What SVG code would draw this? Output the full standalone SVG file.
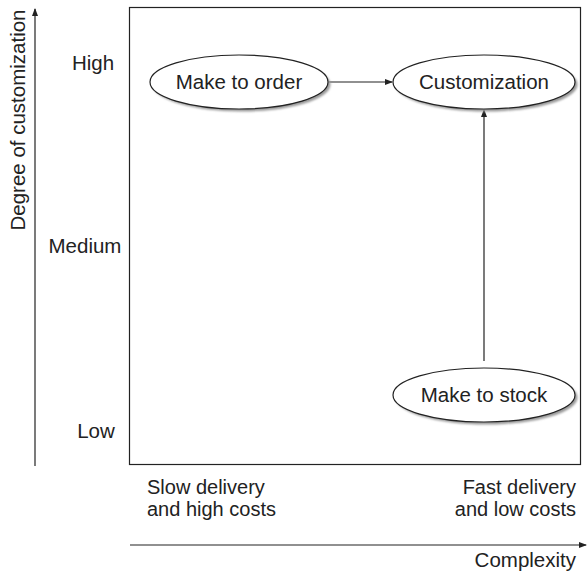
<svg xmlns="http://www.w3.org/2000/svg" width="588" height="576" viewBox="0 0 588 576">
<style>
text{font-family:"Liberation Sans",Arial,sans-serif;font-size:20.5px;fill:#222}
.sm{font-size:20px}
.sh{fill:#999;stroke:none}
.el{fill:#fff;stroke:#222;stroke-width:1.2}
.ln{stroke:#222;stroke-width:1.2;fill:none}
</style>
<defs>
<marker id="ah" markerWidth="8" markerHeight="8" refX="7" refY="4" orient="auto" markerUnits="userSpaceOnUse">
<path d="M0,1 L8,4 L0,7 Z" fill="#222"/>
</marker>
<filter id="bl" x="-10%" y="-20%" width="120%" height="140%"><feGaussianBlur stdDeviation="1"/></filter>
</defs>
<g id="frame"><rect x="129.5" y="7.5" width="451" height="457" fill="#fff" stroke="#222" stroke-width="1.2"/></g>
<g id="axes">
<line class="ln" x1="35" y1="466" x2="35" y2="9" marker-end="url(#ah)"/>
<line class="ln" x1="130" y1="545" x2="586" y2="545" marker-end="url(#ah)"/>
<text transform="translate(25,120) rotate(-90)" text-anchor="middle">Degree of customization</text>
<text x="93" y="70" text-anchor="middle">High</text>
<text x="85" y="253" text-anchor="middle">Medium</text>
<text x="96" y="438" text-anchor="middle">Low</text>
<text class="sm" x="147" y="494">Slow delivery</text>
<text class="sm" x="147" y="516">and high costs</text>
<text class="sm" x="576" y="494" text-anchor="end">Fast delivery</text>
<text class="sm" x="576" y="516" text-anchor="end">and low costs</text>
<text x="576" y="567" text-anchor="end">Complexity</text>
</g>
<g id="connectors">
<line class="ln" x1="329" y1="82" x2="392" y2="82" marker-end="url(#ah)"/>
<line class="ln" x1="484" y1="361" x2="484" y2="110" marker-end="url(#ah)"/>
</g>
<g id="node-make-to-order">
<ellipse class="sh" cx="241.5" cy="84.5" rx="89" ry="27" filter="url(#bl)"/>
<ellipse class="el" cx="239" cy="82" rx="89" ry="27"/>
<text x="239" y="89" text-anchor="middle">Make to order</text>
</g>
<g id="node-customization">
<ellipse class="sh" cx="486.5" cy="84.5" rx="91" ry="27" filter="url(#bl)"/>
<ellipse class="el" cx="484" cy="82" rx="91" ry="27"/>
<text x="484" y="89" text-anchor="middle">Customization</text>
</g>
<g id="node-make-to-stock">
<ellipse class="sh" cx="486.5" cy="397.5" rx="91" ry="27" filter="url(#bl)"/>
<ellipse class="el" cx="484" cy="395" rx="91" ry="27"/>
<text x="484" y="402" text-anchor="middle">Make to stock</text>
</g>
</svg>
